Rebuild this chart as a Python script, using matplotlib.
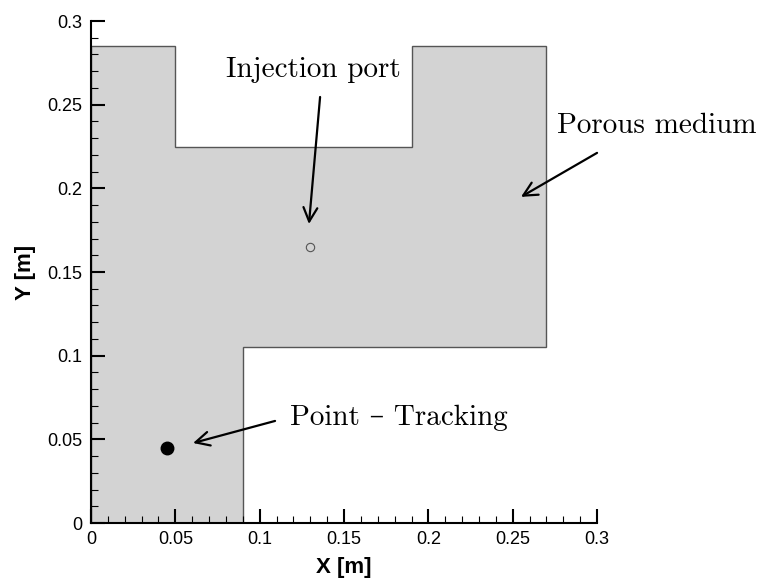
import matplotlib
matplotlib.use("Agg")
import matplotlib.pyplot as plt
from matplotlib.patches import Polygon
from matplotlib.ticker import MultipleLocator

# outline of the porous domain [m]
domain_x = [0.0, 0.09, 0.09, 0.27, 0.27, 0.19, 0.19, 0.05, 0.05, 0.0]
domain_y = [0.0, 0.0, 0.105, 0.105, 0.285, 0.285, 0.225, 0.225, 0.285, 0.285]

injection_port = (0.13, 0.165)
tracking_point = (0.045, 0.045)

label_font = ["cmr10", "DejaVu Serif"]

plt.rcParams["font.family"] = ["Liberation Sans", "DejaVu Sans"]

fig = plt.figure(figsize=(7.63, 5.79), dpi=100)
ax = fig.add_axes([0.1193, 0.0967, 0.6632, 0.867])

domain = Polygon(list(zip(domain_x, domain_y)), closed=True,
                 facecolor="#d3d3d3", edgecolor="#555555", linewidth=1.0, zorder=1)
ax.add_patch(domain)

ax.plot(*injection_port, marker="o", markersize=6, markerfacecolor="none",
        markeredgecolor="#555555", markeredgewidth=0.8, zorder=3)
ax.plot(*tracking_point, marker="o", markersize=9, color="black", zorder=3)

arrow = dict(arrowstyle="->, head_length=1.0, head_width=0.5", lw=1.6, color="black",
             shrinkA=0, shrinkB=0)
ax.annotate("", xy=(0.1292, 0.1787), xytext=(0.1358, 0.2546), arrowprops=arrow,
            annotation_clip=False)
ax.annotate("", xy=(0.2549, 0.1949), xytext=(0.300, 0.2212), arrowprops=arrow,
            annotation_clip=False)
ax.annotate("", xy=(0.0605, 0.0478), xytext=(0.1091, 0.0610), arrowprops=arrow,
            annotation_clip=False)

ax.text(0.1318, 0.2708, "Injection port", family=label_font, fontsize=21,
        ha="center", va="center")
ax.text(0.3356, 0.2373, "Porous medium", family=label_font, fontsize=21,
        ha="center", va="center", clip_on=False)
ax.text(0.118, 0.0628, "Point – Tracking", family=label_font, fontsize=21,
        ha="left", va="center")

ax.set_xlim(0, 0.3)
ax.set_ylim(0, 0.3)
ax.xaxis.set_major_locator(MultipleLocator(0.05))
ax.yaxis.set_major_locator(MultipleLocator(0.05))
ax.xaxis.set_minor_locator(MultipleLocator(0.01))
ax.yaxis.set_minor_locator(MultipleLocator(0.01))
ax.xaxis.set_major_formatter(lambda v, p: f"{v:g}")
ax.yaxis.set_major_formatter(lambda v, p: f"{v:g}")

for side in ["top", "right"]:
    ax.spines[side].set_visible(False)
for side in ["left", "bottom"]:
    ax.spines[side].set_linewidth(1.5)
    ax.spines[side].set_zorder(4)

ax.tick_params(which="major", direction="in", length=10, width=1.5, labelsize=13, pad=6)
ax.tick_params(which="minor", direction="in", length=5, width=0.8)

ax.set_xlabel("X [m]", fontsize=16, fontweight="bold", labelpad=6)
ax.set_ylabel("Y [m]", fontsize=16, fontweight="bold", labelpad=8)

fig.savefig("out.png", dpi=100)
